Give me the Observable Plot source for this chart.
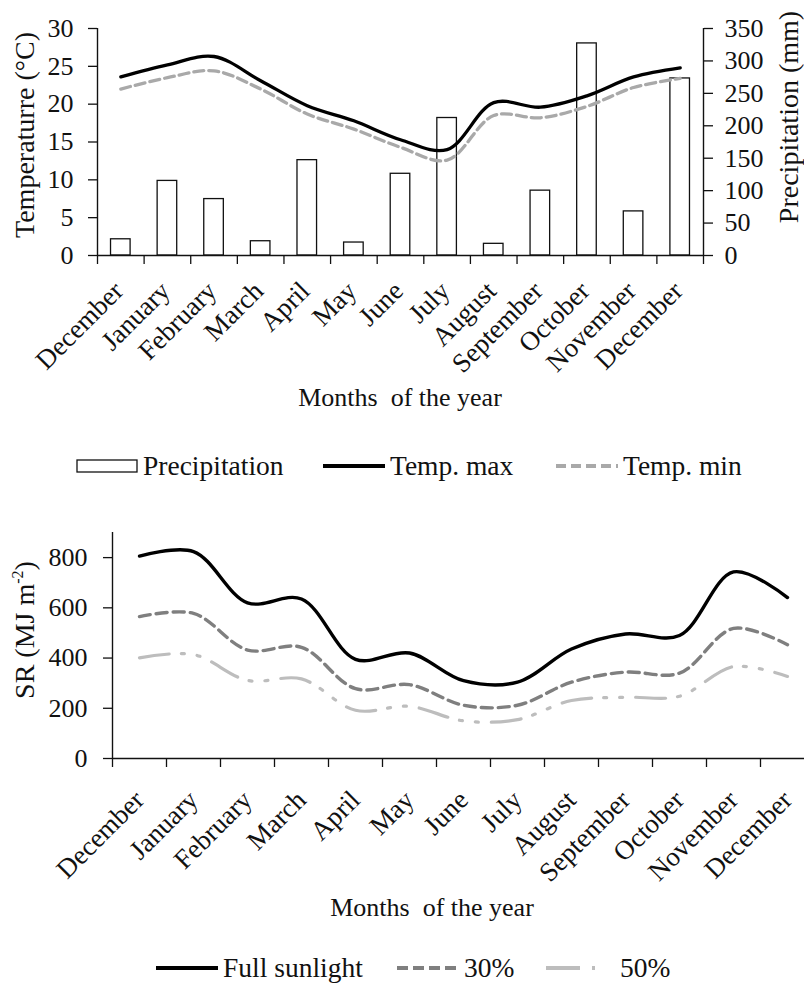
<!DOCTYPE html>
<html>
<head>
<meta charset="utf-8">
<script src="https://cdn.jsdelivr.net/npm/d3@7"></script>
<script src="https://cdn.jsdelivr.net/npm/@observablehq/plot@0.6"></script>
<style>
  html, body { margin: 0; padding: 0; background: #fff; }
  body { width: 804px; height: 987px; overflow: hidden; position: relative;
         font-family: "Liberation Serif", "Times New Roman", serif; color: #111; }
  .abs { position: absolute; }
  svg { max-width: none !important; }
  .ytitle { position: absolute; white-space: nowrap; font-size: 28px; transform-origin: center center; }
  .xtitle { position: absolute; white-space: pre; font-size: 26px; transform: translate(-50%, -50%); }
  .leg { position: absolute; display: flex; align-items: center; font-size: 27.5px; white-space: nowrap; transform: translateY(-50%); }
  .leg svg { display: block; margin-right: 5px; }
</style>
</head>
<body>
<div id="chart1" class="abs" style="left:0;top:0;width:804px;height:382px;overflow:hidden"></div>
<div id="chart2" class="abs" style="left:0;top:490px;width:804px;height:410px;overflow:hidden"></div>

<script>
// ---------- data ----------
const months = ["December","January","February","March","April","May","June","July","August","September","October","November","December"];
const precipitation = [25, 115, 87, 22, 147, 20, 126, 212, 18, 100, 327, 68, 273];   // mm
const tempMax = [23.6, 25.2, 26.3, 23.1, 19.8, 17.8, 15.3, 14.0, 20.2, 19.6, 21.1, 23.6, 24.8]; // °C
const tempMin = [22.0, 23.5, 24.4, 22.0, 18.7, 16.7, 14.3, 12.6, 18.5, 18.2, 19.7, 22.2, 23.4]; // °C
const srFull = [806, 824, 620, 635, 395, 420, 310, 304, 436, 496, 490, 743, 641];
const sr30   = [565, 578, 432, 443, 278, 294, 212, 212, 304, 344, 340, 518, 453];
const sr50   = [401, 414, 311, 317, 192, 208, 150, 155, 231, 244, 248, 366, 327];
const tempTicks = [0, 5, 10, 15, 20, 25, 30];
const precipTicks = [0, 50, 100, 150, 200, 250, 300, 350];
const srTicks = [0, 200, 400, 600, 800];

// ---------- helpers ----------
const idx = months.map((_, i) => i);
const bounds = idx.map(i => i - 0.5).concat([idx.length - 0.5]);
const TMAX = 30, PMAX = 350;
const toT = p => p * TMAX / PMAX;
const font = "Liberation Serif, Times New Roman, serif";
const ink = "#111";

// ---------- chart 1 ----------
const chart1 = Plot.plot({
  width: 804, height: 382,
  marginLeft: 97, marginRight: 101, marginTop: 28, marginBottom: 127,
  x: { type: "linear", domain: [-0.5, idx.length - 0.5] },
  y: { domain: [0, TMAX] },
  style: { fontFamily: font, fontSize: "26px", color: ink, background: "white", maxWidth: "none", overflow: "visible" },
  marks: [
    Plot.rectY(idx, { x1: i => i - 0.21, x2: i => i + 0.21, y1: 0, y2: i => toT(precipitation[i]),
                      fill: "white", stroke: ink, strokeWidth: 1.3 }),
    Plot.line(idx, { x: i => i, y: i => tempMin[i], curve: "catmull-rom",
                     stroke: "#a9a9a9", strokeWidth: 3.3, strokeDasharray: "10,5" }),
    Plot.line(idx, { x: i => i, y: i => tempMax[i], curve: "catmull-rom",
                     stroke: "#000", strokeWidth: 3.3 }),
    Plot.ruleX([-0.5], { stroke: ink, strokeWidth: 1.4 }),
    Plot.ruleX([idx.length - 0.5], { stroke: ink, strokeWidth: 1.4 }),
    Plot.ruleY([0], { stroke: ink, strokeWidth: 1.4 }),
    Plot.axisY({ ticks: tempTicks, tickSize: 9, tickPadding: 15, label: null, strokeWidth: 1.3 }),
    Plot.axisY({ anchor: "right", ticks: precipTicks.map(toT), tickFormat: t => String(Math.round(t * PMAX / TMAX)),
                 tickSize: 9, tickPadding: 12, label: null, strokeWidth: 1.3 }),
    Plot.axisX({ ticks: bounds, tickFormat: () => "", tickSize: 9, label: null, strokeWidth: 1.3 }),
    Plot.axisX({ ticks: idx, tickFormat: i => months[i], tickSize: 0, tickRotate: -45,
                 tickPadding: 31, dx: -2, fontSize: 27, label: null })
  ]
});
document.getElementById("chart1").appendChild(chart1);

// ---------- chart 2 ----------
const chart2 = Plot.plot({
  width: 814, height: 410,
  marginLeft: 112, marginRight: 0, marginTop: 42, marginBottom: 142,
  x: { type: "linear", domain: [-0.5, idx.length - 0.5] },
  y: { domain: [0, 900] },
  style: { fontFamily: font, fontSize: "26px", color: ink, background: "white", maxWidth: "none", overflow: "visible" },
  marks: [
    Plot.line(idx, { x: i => i, y: i => sr50[i], curve: "catmull-rom",
                     stroke: "#bdbdbd", strokeWidth: 3.2, strokeDasharray: "30,12,3,13,3,13" }),
    Plot.line(idx, { x: i => i, y: i => sr30[i], curve: "catmull-rom",
                     stroke: "#7f7f7f", strokeWidth: 3.4, strokeDasharray: "11,6" }),
    Plot.line(idx, { x: i => i, y: i => srFull[i], curve: "catmull-rom",
                     stroke: "#000", strokeWidth: 3.4 }),
    Plot.ruleX([-0.5], { stroke: ink, strokeWidth: 1.4 }),
    Plot.ruleY([0], { stroke: ink, strokeWidth: 1.4 }),
    Plot.axisY({ ticks: srTicks, tickSize: 9, tickPadding: 16, label: null, strokeWidth: 1.3 }),
    Plot.axisX({ ticks: bounds, tickFormat: () => "", tickSize: 9, label: null, strokeWidth: 1.3 }),
    Plot.axisX({ ticks: idx, tickFormat: i => months[i], tickSize: 0, tickRotate: -45,
                 tickPadding: 37, dx: 0, fontSize: 27, label: null })
  ]
});
document.getElementById("chart2").appendChild(chart2);

// ---------- titles & legends (HTML) ----------
function addDiv(cls, style, html) {
  const d = document.createElement("div");
  d.className = cls; d.setAttribute("style", style); d.innerHTML = html;
  document.body.appendChild(d); return d;
}
function rotTitle(text, cx, cy) {
  const d = addDiv("ytitle", "", text);
  const w = d.offsetWidth, h = d.offsetHeight;
  d.style.left = (cx - w / 2) + "px"; d.style.top = (cy - h / 2) + "px";
  d.style.transform = "rotate(-90deg)";
}
rotTitle("Temperaturre (°C)", 25, 135);
rotTitle("Precipitation (mm)", 789, 117);
rotTitle("SR (MJ m<sup style='font-size:16px;vertical-align:11px'>-2</sup>)", 25, 630);

addDiv("xtitle", "left:400px;top:398px", "Months  of the year");
addDiv("xtitle", "left:432px;top:908px", "Months  of the year");

function swatch(kind, w) {
  w = w || 62;
  if (kind === "rect") return `<svg width="${w}" height="16"><rect x="1" y="2" width="${w - 2}" height="12" fill="white" stroke="${ink}" stroke-width="1.3"/></svg>`;
  const [color, dash, sw] = kind;
  return `<svg width="${w}" height="16"><line x1="0" x2="${w}" y1="8" y2="8" stroke="${color}" stroke-width="${sw}" ${dash ? `stroke-dasharray="${dash}"` : ""}/></svg>`;
}
addDiv("leg", "left:76px;top:466px", swatch("rect", 62) + "Precipitation");
addDiv("leg", "left:323px;top:466px", swatch(["#000", "", 4], 62) + "Temp. max");
addDiv("leg", "left:556px;top:466px", swatch(["#a9a9a9", "10,5", 4], 62) + "Temp. min");

addDiv("leg", "left:156px;top:968px", swatch(["#000", "", 4], 62) + "Full sunlight");
addDiv("leg", "left:397px;top:968px", swatch(["#7f7f7f", "11,5", 4], 62) + "30%");
addDiv("leg", "left:546px;top:968px", swatch(["#bdbdbd", "34,12,3,40", 4], 62) + "&nbsp;50%");
</script>
</body>
</html>
